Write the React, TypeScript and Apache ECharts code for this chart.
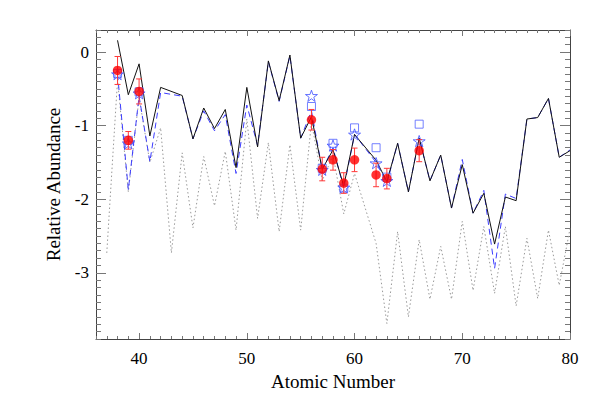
import React, { useEffect, useRef } from "react";
import * as echarts from "echarts";

// Model curves
const modelX = [38, 39, 40, 41, 42, 44, 45, 46, 47, 48, 49, 50, 51, 52, 53, 54, 55, 56, 57, 58, 59, 60, 62, 63, 64, 65, 66, 67, 68, 69, 70, 71, 72, 73, 74, 75, 76, 77, 78, 79, 80];
const solidY = [0.16, -0.58, -0.16, -1.14, -0.48, -0.59, -1.18, -0.76, -1.04, -0.78, -1.57, -0.48, -1.29, -0.12, -0.66, -0.04, -1.17, -0.88, -1.59, -1.33, -1.82, -1.12, -1.47, -1.76, -1.24, -1.9, -1.17, -1.75, -1.4, -2.12, -1.53, -2.19, -1.92, -2.61, -1.97, -2.02, -0.91, -0.89, -0.63, -1.43, -1.34];
const dashedY = [-0.3, -1.87, -0.6, -1.49, -0.55, -0.6, -1.18, -0.8, -1.07, -0.85, -1.65, -0.72, -1.27, -0.13, -0.67, -0.05, -1.17, -0.8, -1.6, -1.3, -1.85, -1.12, -1.5, -1.78, -1.24, -1.9, -1.17, -1.75, -1.4, -2.12, -1.46, -2.19, -1.88, -2.94, -1.93, -1.99, -0.91, -0.89, -0.63, -1.43, -1.33];

const dottedX = [37, 38, 39, 40, 41, 42, 43, 44, 45, 46, 47, 48, 49, 50, 51, 52, 53, 54, 55, 56, 57, 58, 59, 60, 62, 63, 64, 65, 66, 67, 68, 69, 70, 71, 72, 73, 74, 75, 76, 77, 78, 79, 80];
const dottedY = [-2.73, -0.38, -1.9, -0.62, -1.5, -1.03, -2.73, -1.37, -2.39, -1.42, -2.09, -1.35, -2.42, -0.91, -2.26, -1.23, -2.44, -1.26, -2.42, -0.95, -1.75, -1.4, -2.2, -1.65, -2.6, -3.69, -2.44, -3.6, -2.55, -3.36, -2.64, -3.36, -2.3, -3.24, -2.37, -3.28, -2.37, -3.45, -2.53, -3.35, -2.42, -3.17, -2.4];

// Observations and comparison points
const obsX = [38, 39, 40, 56, 57, 58, 59, 60, 62, 63, 66];
const obsY = [-0.25, -1.2, -0.535, -0.92, -1.59, -1.465, -1.78, -1.465, -1.67, -1.72, -1.34];
const obsErr = [0.19, 0.12, 0.17, 0.14, 0.16, 0.14, 0.14, 0.16, 0.16, 0.14, 0.15];
const squareY = [-0.29, -1.2, -0.54, -0.74, -1.58, -1.24, -1.85, -1.03, -1.3, -1.7, -0.98];
const starY = [-0.3, -1.24, -0.56, -0.595, -1.6, -1.27, -1.84, -1.12, -1.51, -1.75, -1.21];

// Ticks
const xMajor = [40, 50, 60, 70, 80];
const yMajor = [-3, -2, -1, 0];
const xMinor: number[] = [];
for (let v = 36; v <= 80; v++) xMinor.push(v);
const yMinor: number[] = [];
for (let k = -39; k <= 3; k++) yMinor.push(Math.round(k) / 10);

const FONT = "'Liberation Serif', 'Times New Roman', 'DejaVu Serif', serif";
const STAR = "path://M50,0 L61.8,35.1 L98.1,35.1 L68.8,56.7 L79.4,90.9 L50,69.1 L20.6,90.9 L31.2,56.7 L1.9,35.1 L38.2,35.1 Z";

export default function App() {
  const ref = useRef<HTMLDivElement>(null);
  useEffect(() => {
    if (!ref.current) return;
    const chart = echarts.init(ref.current, null, { renderer: "svg" });
    const X_MIN = 36, X_MAX = 80, Y_MIN = -3.9, Y_MAX = 0.3;
    const lineC = "#444";
    const tickC = "#777";
    const xAx = (pos: string, vals: number[], len: number, line: boolean, label: boolean, extra: any = {}) => ({
      type: "value", min: X_MIN, max: X_MAX, position: pos,
      axisLine: { show: line, onZero: false, lineStyle: { color: lineC, width: 1 } },
      axisTick: { show: true, inside: true, length: len, customValues: vals, lineStyle: { color: tickC, width: 1 } },
      axisLabel: label ? { show: true, customValues: vals, fontFamily: FONT, fontSize: 17, color: "#000", margin: 11 } : { show: false },
      splitLine: { show: false },
      ...extra,
    });
    const yAx = (pos: string, vals: number[], len: number, line: boolean, label: boolean, extra: any = {}) => ({
      type: "value", min: Y_MIN, max: Y_MAX, position: pos,
      axisLine: { show: line, onZero: false, lineStyle: { color: lineC, width: 1 } },
      axisTick: { show: true, inside: true, length: len, customValues: vals, lineStyle: { color: tickC, width: 1 } },
      axisLabel: label ? { show: true, customValues: vals, fontFamily: FONT, fontSize: 17, color: "#000", margin: 7 } : { show: false },
      splitLine: { show: false },
      ...extra,
    });
    const option: any = {
      animation: false,
      backgroundColor: "#fff",
      textStyle: { fontFamily: FONT },
      grid: { left: 96, top: 30, width: 474, height: 309 },
      xAxis: [
        xAx("bottom", xMajor, 6, true, true, {
          name: "Atomic Number", nameLocation: "middle", nameGap: 29,
          nameTextStyle: { fontFamily: FONT, fontSize: 19, color: "#000" },
        }),
        xAx("bottom", xMinor, 3, false, false),
        xAx("top", xMajor, 6, true, false),
        xAx("top", xMinor, 3, false, false),
      ],
      yAxis: [
        yAx("left", yMajor, 10, true, true, {
          name: "Relative Abundance", nameLocation: "middle", nameGap: 33, nameRotate: 90,
          nameTextStyle: { fontFamily: FONT, fontSize: 19, color: "#000" },
        }),
        yAx("left", yMinor, 5, false, false),
        yAx("right", yMajor, 10, true, false),
        yAx("right", yMinor, 5, false, false),
      ],
      series: [
        {
          type: "line", name: "dotted", data: dottedX.map((x, i) => [x, dottedY[i]]),
          showSymbol: false, symbol: "none",
          lineStyle: { color: "#999", width: 1, type: [1.5, 2.5] }, z: 1,
        },
        {
          type: "line", name: "dashed", data: modelX.map((x, i) => [x, dashedY[i]]),
          showSymbol: false, symbol: "none",
          lineStyle: { color: "#3c3cff", width: 1, type: [6, 4] }, z: 2,
        },
        {
          type: "line", name: "solid", data: modelX.map((x, i) => [x, solidY[i]]),
          showSymbol: false, symbol: "none",
          lineStyle: { color: "#111", width: 1 }, z: 3,
        },
        {
          type: "scatter", name: "squares", data: obsX.map((x, i) => [x, squareY[i]]),
          symbol: "rect", symbolSize: 8,
          itemStyle: { color: "rgba(0,0,0,0)", borderColor: "#5060ff", borderWidth: 1 }, z: 4,
        },
        {
          type: "scatter", name: "stars", data: obsX.map((x, i) => [x, starY[i]]),
          symbol: STAR, symbolSize: 12, symbolKeepAspect: true,
          itemStyle: { color: "rgba(0,0,0,0)", borderColor: "#4050ff", borderWidth: 1 }, z: 5,
        },
        {
          type: "custom", name: "errors", data: obsX.map((x, i) => [x, obsY[i], obsErr[i]]),
          encode: { x: 0, y: 1 }, z: 6,
          renderItem: (params: any, api: any) => {
            const x = api.value(0), y = api.value(1), e = api.value(2);
            const t = api.coord([x, y + e]);
            const b = api.coord([x, y - e]);
            const c = 3;
            const st = { stroke: "#ff3838", lineWidth: 1 };
            return {
              type: "group",
              children: [
                { type: "line", shape: { x1: t[0], y1: t[1], x2: b[0], y2: b[1] }, style: st },
                { type: "line", shape: { x1: t[0] - c, y1: t[1], x2: t[0] + c, y2: t[1] }, style: st },
                { type: "line", shape: { x1: b[0] - c, y1: b[1], x2: b[0] + c, y2: b[1] }, style: st },
              ],
            };
          },
        },
        {
          type: "scatter", name: "observed", data: obsX.map((x, i) => [x, obsY[i]]),
          symbol: "circle", symbolSize: 9.5,
          itemStyle: { color: "#ff0000", borderWidth: 0 }, z: 7,
        },
      ],
    };
    chart.setOption(option);
    return () => chart.dispose();
  }, []);
  return <div ref={ref} style={{ width: 599, height: 400, position: "absolute", left: 0, top: 0 }} />;
}
